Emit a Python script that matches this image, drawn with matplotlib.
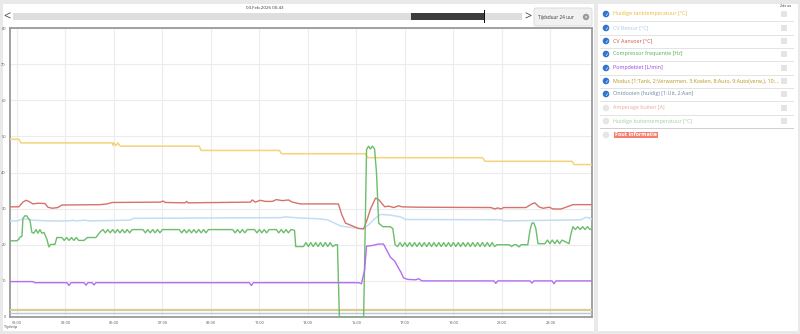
import matplotlib
matplotlib.use("Agg")
import matplotlib.pyplot as plt
from matplotlib.patches import Rectangle, Circle, FancyBboxPatch
from matplotlib.transforms import Affine2D

plt.rcParams['font.family'] = ['Open Sans', 'DejaVu Sans']

# ---- data (hours since 00:00, 03.Feb.2026) ----
tank_t = [0.71, 1.08, 1.17, 4.93, 4.97, 5.00, 5.09, 5.17, 5.26, 8.52, 8.60, 11.83, 11.91,
          15.38, 15.46, 20.21, 20.30, 23.89, 23.98, 24.76]
tank_v = [49.2, 49.2, 48.2, 48.2, 47.5, 48.2, 47.5, 48.2, 47.3, 47.3, 46.1, 46.1, 45.2,
          45.2, 44.1, 44.1, 43.1, 43.1, 42.2, 42.2]

retour_t = [0.71, 1.00, 1.20, 1.45, 1.62, 2.36, 3.19, 3.30, 3.40, 3.81, 3.95, 5.67, 5.79,
            8.56, 11.87, 12.07, 12.69, 13.40, 13.81, 14.35, 14.76, 15.26, 15.50, 15.75,
            16.00, 16.41, 16.83, 17.03, 20.96, 21.08, 24.26, 24.47, 24.60, 24.76]
retour_v = [26.6, 26.6, 27.0, 27.2, 26.8, 26.6, 26.6, 26.8, 26.6, 26.8, 26.6, 26.8, 27.3,
            27.4, 27.5, 27.7, 27.4, 27.2, 26.9, 25.2, 24.8, 24.4, 25.5, 27.2,
            28.4, 28.2, 27.7, 27.0, 26.9, 26.6, 26.9, 27.6, 27.4, 27.0]

aanvoer_t = [0.71, 1.08, 1.25, 1.37, 1.50, 1.66, 1.87, 2.16, 2.28, 2.45, 2.69, 2.86, 4.43,
             4.72, 4.93, 6.91, 7.03, 7.12, 7.94, 8.00, 8.06, 10.63, 10.71, 10.83, 11.04,
             11.25, 11.54, 11.70, 11.95, 12.20, 12.36, 12.69, 14.26, 14.39, 14.55, 14.84,
             15.09, 15.30, 15.42, 15.59, 15.79, 15.92, 16.17, 16.33, 16.54, 16.75, 16.87,
             17.45, 20.55, 20.71, 20.83, 20.96, 21.08, 21.99, 22.24, 22.36, 22.53, 22.70,
             22.95, 23.11, 23.44, 23.73, 23.93, 24.76]
aanvoer_v = [30.5, 30.5, 31.8, 32.3, 32.0, 31.3, 31.5, 31.4, 30.4, 30.1, 30.3, 31.0, 31.1,
             31.3, 31.7, 31.8, 32.1, 31.7, 31.6, 32.0, 31.6, 31.8, 32.4, 31.8, 32.3,
             32.0, 32.0, 32.5, 32.2, 32.4, 31.8, 31.3, 31.3, 28.5, 26.0, 25.2,
             24.5, 24.4, 26.5, 30.0, 32.9, 32.5, 30.5, 30.7, 30.3, 30.8, 30.5,
             30.4, 30.3, 29.9, 30.2, 29.9, 30.3, 30.3, 31.3, 31.6, 30.5, 30.1,
             30.4, 29.9, 29.9, 30.6, 31.1, 31.1]

# compressor frequency as (hour, Hz) pairs
comp_pts = [
    (0.71, 21.1), (1.00, 21.1), (1.08, 21.5), (1.12, 22.1), (1.21, 22.3), (1.25, 27.3),
    (1.33, 28.0), (1.41, 28.0), (1.50, 27.0), (1.54, 26.8), (1.62, 23.4), (1.70, 23.2),
    (1.79, 24.2), (1.87, 23.2), (1.95, 24.2), (2.03, 23.2), (2.12, 23.4), (2.24, 21.5),
    (2.32, 19.4), (2.40, 20.1), (2.57, 20.1), (2.65, 22.0), (2.86, 22.0), (2.95, 21.2),
    (3.05, 22.0), (3.15, 21.2), (3.25, 22.0), (3.35, 21.2), (3.45, 22.0), (3.55, 21.2),
    (3.77, 21.2), (3.90, 22.0), (4.26, 22.0), (4.43, 23.5), (4.55, 24.2), (4.65, 23.3),
    (4.75, 24.2), (4.85, 23.3), (4.95, 24.2), (5.05, 23.3), (5.15, 24.2), (5.25, 23.3),
    (5.35, 24.2), (5.45, 23.3), (5.55, 24.2), (5.65, 23.3), (5.75, 24.2), (6.20, 24.2),
    (6.30, 23.3), (6.40, 24.2), (6.50, 23.3), (6.60, 24.2), (6.70, 23.3), (6.80, 24.2),
    (6.90, 23.3), (7.00, 24.2), (7.70, 24.2), (7.80, 23.3), (7.90, 24.2), (8.00, 23.3),
    (8.10, 24.2), (8.20, 23.3), (8.30, 24.2), (8.40, 23.3), (8.50, 24.2), (8.60, 23.3),
    (8.70, 24.2), (8.80, 23.3), (8.90, 24.2), (9.90, 24.2), (10.00, 23.3), (10.10, 24.2),
    (10.20, 23.3), (10.30, 24.2), (10.40, 23.3), (10.50, 24.2), (10.80, 24.2),
    (10.90, 23.3), (11.00, 24.2), (11.10, 23.3), (11.20, 24.2), (11.30, 23.3),
    (11.40, 24.2), (11.70, 24.2), (11.80, 23.3), (11.90, 24.2), (12.00, 23.3),
    (12.10, 24.2), (12.20, 23.3), (12.30, 24.2), (12.45, 24.0), (12.50, 19.5),
    (12.82, 19.5), (12.92, 20.6), (13.02, 19.5), (13.12, 20.6), (13.22, 19.5),
    (13.32, 20.6), (13.42, 19.5), (13.52, 20.6), (13.62, 19.5), (13.72, 20.6),
    (13.82, 19.5), (13.92, 20.6), (14.02, 19.5), (14.14, 20.0), (14.22, 20.0),
    (14.30, 0.0), (15.30, 0.0), (15.42, 46.3), (15.50, 47.3), (15.58, 46.5),
    (15.66, 47.3), (15.75, 46.5), (15.83, 40.0), (15.92, 26.0), (16.00, 25.5),
    (16.10, 25.0), (16.40, 25.0), (16.50, 24.5), (16.60, 20.0), (16.70, 19.5),
    (16.80, 20.6), (16.90, 19.5), (17.00, 20.6), (17.10, 19.5), (17.20, 20.6),
    (17.30, 19.5), (17.40, 20.6), (17.50, 19.5), (17.60, 20.6), (17.70, 19.5),
    (17.80, 20.6), (17.90, 19.5), (18.00, 20.6), (18.10, 19.5), (18.20, 20.6),
    (18.30, 19.5), (18.40, 20.6), (18.50, 19.5), (18.60, 20.6), (18.70, 19.5),
    (18.80, 20.6), (18.90, 19.5), (19.00, 20.6), (19.10, 19.5), (19.20, 20.6),
    (19.30, 19.5), (19.40, 20.6), (19.50, 19.5), (19.60, 20.6), (19.70, 19.5),
    (19.80, 20.6), (19.90, 19.5), (20.00, 20.6), (20.10, 19.5), (20.20, 20.6),
    (20.30, 19.5), (20.40, 20.6), (20.50, 19.5), (20.60, 20.6), (20.70, 19.5),
    (20.80, 20.0), (21.30, 20.0), (21.40, 19.5), (21.50, 20.0), (21.60, 20.0),
    (21.70, 19.4), (21.80, 20.0), (22.07, 20.0), (22.16, 24.0), (22.24, 26.0),
    (22.32, 26.0), (22.40, 24.5), (22.49, 20.3), (22.78, 20.3), (22.88, 21.3),
    (22.98, 20.3), (23.08, 21.3), (23.18, 20.3), (23.28, 21.3), (23.38, 20.3),
    (23.48, 21.3), (23.77, 20.3), (23.85, 23.0), (23.93, 25.0), (24.03, 24.2),
    (24.13, 25.0), (24.23, 24.2), (24.33, 25.0), (24.43, 24.2), (24.53, 25.0),
    (24.63, 24.2), (24.76, 24.6),
]
comp_t = [p[0] for p in comp_pts]
comp_v = [p[1] for p in comp_pts]

pomp_t = [0.71, 1.66, 1.74, 3.07, 3.15, 3.23, 3.77, 3.85, 3.93, 4.10, 4.18, 4.26, 10.59,
          10.67, 10.75, 15.09, 15.21, 15.34, 15.42, 15.67, 15.92, 16.12, 16.25, 16.41,
          16.58, 16.70, 16.83, 16.95, 17.12, 17.45, 17.57, 17.70, 20.67, 20.75, 20.83,
          22.16, 22.24, 22.32, 23.07, 23.15, 23.23, 24.76]
pomp_v = [9.8, 9.8, 9.5, 9.5, 8.7, 9.5, 9.5, 8.8, 9.5, 9.5, 8.9, 9.5, 9.5,
          8.7, 9.5, 9.5, 9.2, 13.0, 19.6, 19.8, 20.2, 20.2, 18.5, 16.5,
          15.5, 14.0, 12.5, 10.8, 10.4, 10.3, 10.6, 10.0, 10.0, 9.3, 10.0,
          10.0, 9.4, 10.0, 10.0, 9.2, 10.0, 10.0]

modus_t = [0.71, 24.76]
modus_v = [2.0, 2.0]
ontdooi_t = [0.71, 24.76]
ontdooi_v = [1.0, 1.0]

tick_hours = [1, 3, 5, 7, 9, 11, 13, 15, 17, 19, 21, 23]
tick_labels = ["01:00", "03:00", "05:00", "07:00", "09:00", "11:00",
               "13:00", "15:00", "17:00", "19:00", "21:00", "23:00"]
y_ticks = [0, 10, 20, 30, 40, 50, 60, 70, 80]

legend_items = [
    ("Huidige tanktemperatuur [°C]", "#e8b93a", True),
    ("CV Retour [°C]", "#a9c8ec", True),
    ("CV Aanvoer [°C]", "#d0514a", True),
    ("Compressor frequentie [Hz]", "#4fae4f", True),
    ("Pompdebiet [L/min]", "#9b3fe0", True),
    ("Modus [1:Tank, 2:Verwarmen, 3:Koelen, 8:Auto, 9:Auto(verw.), 10:...", "#b8961e", True),
    ("Ontdooien (huidig) [1:Uit, 2:Aan]", "#6f86a8", True),
    ("Amperage buiten [A]", "#eaa898", False),
    ("Huidige buitentemperatuur [°C]", "#9fcf9f", False),
]

# ---- figure ----
W, H = 800, 334
fig = plt.figure(figsize=(W / 100, H / 100), dpi=100)
fig.patch.set_facecolor("#e9e9e9")
px = Affine2D().scale(1 / W, -1 / H).translate(0, 1) + fig.transFigure


def rect(x, y, w, h, **kw):
    fig.add_artist(Rectangle((x, y), w, h, transform=px, **kw))


rect(3, 4, 591, 327, facecolor="white", edgecolor="none", zorder=0)
rect(598, 4, 200, 327, facecolor="white", edgecolor="none", zorder=0)

# time slider
fig.text(265 / W, 1 - 8 / H, "03.Feb.2026 00:43", fontsize=3.2, ha="center", va="center", color="#333333")
fig.text(7 / W, 1 - 17 / H, "<", fontsize=9, ha="center", va="center", color="#444444")
fig.text(528 / W, 1 - 17 / H, ">", fontsize=9, ha="center", va="center", color="#444444")
rect(13, 13, 509, 7, facecolor="#dedede", edgecolor="none", zorder=1)
rect(411, 13, 73, 7, facecolor="#3c3c3c", edgecolor="none", zorder=2)
rect(483.5, 10, 1.2, 13, facecolor="#111111", edgecolor="none", zorder=3)
fig.add_artist(FancyBboxPatch((534, 8), 58, 18, boxstyle="round,pad=0,rounding_size=2",
                              transform=px, facecolor="#f1f1f1", edgecolor="#d8d8d8", lw=0.6))
fig.text(538 / W, 1 - 17 / H, "Tijdsduur 24 uur", fontsize=3.3, ha="left", va="center", color="#333333")
fig.add_artist(Circle((586, 17), 3.2, transform=px, facecolor="#9a9a9a", edgecolor="none"))
fig.text(586 / W, 1 - 17.3 / H, "v", fontsize=3, ha="center", va="center", color="white", fontweight="bold")

# ---- chart ----
ax = fig.add_axes([10 / W, 17 / H, 582 / W, 289 / H])
ax.set_facecolor("white")
ax.plot(modus_t, modus_v, color="#d9cc8e", lw=1.6, zorder=3)
ax.plot(ontdooi_t, ontdooi_v, color="#b7c6da", lw=1.0, zorder=3)
ax.plot(tank_t, tank_v, color="#f3d47a", lw=1.1, zorder=4)
ax.plot(retour_t, retour_v, color="#c4dcf4", lw=1.1, zorder=4)
ax.plot(aanvoer_t, aanvoer_v, color="#d8716b", lw=1.0, zorder=5)
ax.plot(comp_t, comp_v, color="#6cbd6c", lw=1.0, zorder=5)
ax.plot(pomp_t, pomp_v, color="#b46ef0", lw=1.0, zorder=5)

ax.set_xlim(0.717, 24.717)
ax.set_ylim(0, 80)
ax.set_xticks(tick_hours)
ax.set_xticklabels(tick_labels)
ax.set_yticks(y_ticks)
ax.tick_params(length=0, labelsize=2.8, labelcolor="#555555", pad=3)
ax.grid(True, color="#ececec", lw=0.8)
ax.set_axisbelow(True)
for s in ax.spines.values():
    s.set_color("#9a9a9a")
    s.set_linewidth(1.3)
fig.text(4 / W, 1 - 327 / H, "Tijdstip", fontsize=2.8, ha="left", va="center", color="#444444")

# ---- legend panel ----
fig.text(786 / W, 1 - 6 / H, "2de as", fontsize=2.6, ha="center", va="center", color="#333333")
row_y = [14, 28, 41, 54, 68, 81, 94, 108, 121]
for (label, col, on), y in zip(legend_items, row_y):
    if on:
        fig.add_artist(Circle((606, y), 3.3, transform=px, facecolor="#2f74d0", edgecolor="none"))
        fig.text(606 / W, 1 - y / H, "✓", fontsize=3.6, ha="center", va="center",
                 color="white", fontweight="bold", family="DejaVu Sans")
    else:
        fig.add_artist(Circle((606, y), 3.3, transform=px, facecolor="#e6e6e6", edgecolor="none"))
    fig.text(613 / W, 1 - y / H, label, fontsize=3.9, ha="left", va="center", color=col)
    rect(781, y - 3, 6, 6, facecolor="#e4e4e4", edgecolor="none", zorder=1)
    rect(600, y + 7, 194, 0.6, facecolor="#e3e3e3", edgecolor="none", zorder=1)
rect(600, 128, 194, 1.2, facecolor="#d0d0d0", edgecolor="none", zorder=1)
fig.add_artist(Circle((606, 135), 3.3, transform=px, facecolor="#e6e6e6", edgecolor="none"))
fig.text(615 / W, 1 - 135 / H, "Fout informatie", fontsize=3.9, ha="left", va="center",
         color="white", fontweight="bold",
         bbox=dict(boxstyle="square,pad=0.15", facecolor="#f37e70", edgecolor="none"))

fig.savefig("out.png", dpi=100, facecolor=fig.get_facecolor())
